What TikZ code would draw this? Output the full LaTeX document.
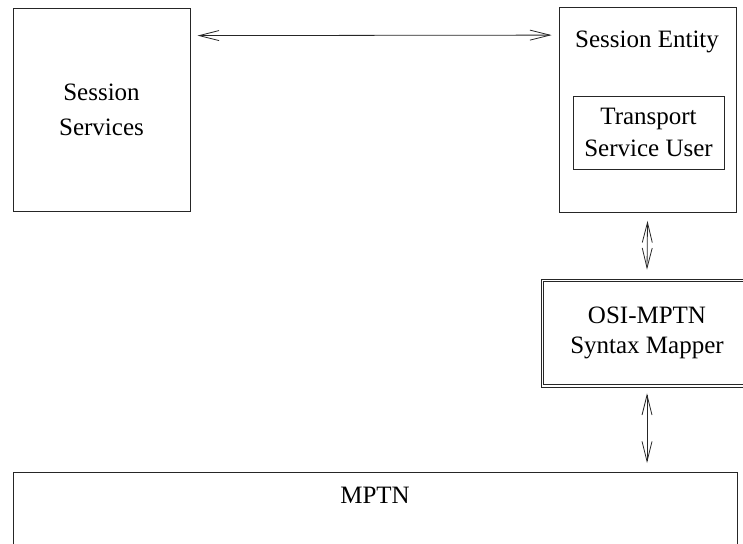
\documentclass[tikz,border=0pt]{standalone}
\usepackage{fontspec}
\setmainfont{Liberation Serif}
\usetikzlibrary{arrows.meta}
\begin{document}
\begin{tikzpicture}[x=1pt,y=-1pt,
  box/.style={draw=black!85, line width=0.8pt, inner sep=0pt, align=center,
    font=\fontsize{25}{32}\selectfont},
  frame/.style={draw=black!85, line width=0.8pt},
  label/.style={inner sep=0pt, font=\fontsize{25}{32}\selectfont},
  link/.style={draw=black!85, line width=0.8pt,
    {Straight Barb[length=20pt,width=10pt]}-{Straight Barb[length=20pt,width=10pt]}}]
  \useasboundingbox (0,0) rectangle (743,543);
  \clip (0,0) rectangle (743,543);
  % upper row: service box and session entity
  \node[box, minimum width=177pt, minimum height=203pt, text depth=0pt] (ss) at (101.5,109.5)
    {Session\\[3pt]Services};
  \node[box, minimum width=177pt, minimum height=205pt] (se) at (647.5,110) {};
  \node[label] (setitle) at (647,42) {Session Entity};
  \node[box, minimum width=151pt, minimum height=73pt] (tsu) at (648.5,132.5)
    {Transport\\Service User};
  % syntax mapper with a double frame
  \node[box, minimum width=212pt, minimum height=108pt] (osi) at (647,333)
    {OSI-MPTN\\[-2pt]Syntax Mapper};
  \draw[frame] ([shift={(3pt,-3pt)}]osi.north west) rectangle ([shift={(-3pt,3pt)}]osi.south east);
  % network layer at the bottom
  \node[box, minimum width=724pt, minimum height=120pt, anchor=north west] (mptn) at (13,472) {};
  \node[label] (mptnlabel) at (375,495) {MPTN};
  % connectors
  \draw[link] ([shift={(7pt,-28pt)}]ss.north east) -- ([shift={(-7pt,-28pt)}]se.north west);
  \draw[link] ([yshift=-8pt]se.south) -- ([yshift=9pt]osi.north);
  \draw[link] ([yshift=-6pt]osi.south) -- ([yshift=9pt]mptn.north -| osi.south);
\end{tikzpicture}
\end{document}
